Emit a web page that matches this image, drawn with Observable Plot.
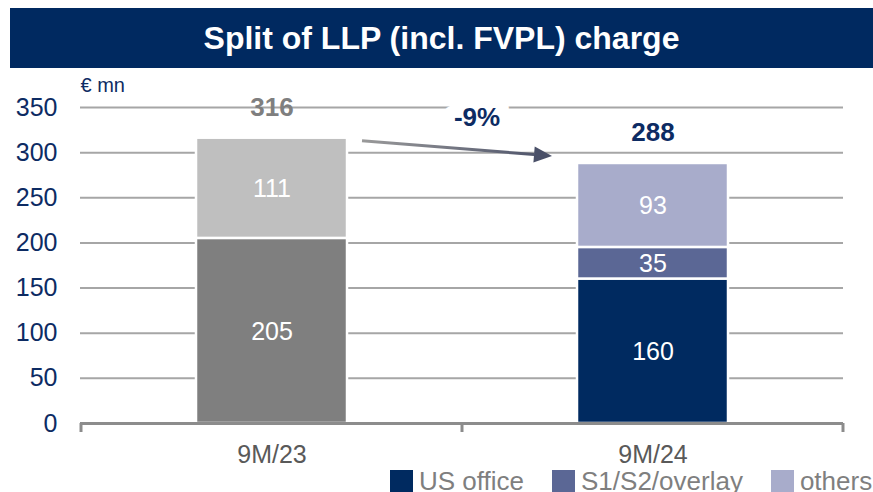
<!DOCTYPE html>
<html>
<head>
<meta charset="utf-8">
<script src="https://cdn.jsdelivr.net/npm/d3@7"></script>
<script src="https://cdn.jsdelivr.net/npm/@observablehq/plot@0.6"></script>
<style>
  html, body { margin: 0; padding: 0; background: #fff; }
  body { width: 873px; height: 492px; overflow: hidden; font-family: "Liberation Sans", Arial, sans-serif; }
  #title { margin: 8px 0 0 10px; height: 60px; background: #002960; color: #fff; font-weight: bold;
           font-size: 32px; display: flex; align-items: center; justify-content: center; }
  #chart svg { display: block; }
  #legend { display: flex; margin-left: 390px; height: 30px; align-items: flex-start; }
  .item { display: flex; align-items: flex-start; margin-right: 28px; }
  .sw { width: 23px; height: 23px; margin-right: 6px; flex: none; }
  .lab { font-size: 26px; line-height: 23px; color: #7f7f7f; white-space: nowrap; }
</style>
</head>
<body>
<div id="title"></div>
<div id="chart"></div>
<div id="legend"></div>
<script>
// ---- data ----
const title = "Split of LLP (incl. FVPL) charge";
const unit = "€ mn";
const periods = ["9M/23", "9M/24"];
const seriesNames = ["US office", "S1/S2/overlay", "others"];
const split23 = [205, 111];        // bottom → top (unnamed grey split)
const split24 = [160, 35, 93];     // US office, S1/S2/overlay, others
const totals = [316, 288];
const change = "-9%";
const yTicks = [0, 50, 100, 150, 200, 250, 300, 350];

// ---- styles ----
const NAVY = "#0d2b63";
const colors23 = ["#7f7f7f", "#bfbfbf"];
const colors24 = ["#002a60", "#5b6795", "#a8accb"];
const totalColors = ["#7f7f7f", NAVY];

const rows = [
  ...split23.map((v, i) => ({period: periods[0], key: "g" + i, value: v, color: colors23[i]})),
  ...split24.map((v, i) => ({period: periods[1], key: seriesNames[i], value: v, color: colors24[i]}))
];
const totalRows = periods.map((p, i) => ({period: p, total: totals[i], color: totalColors[i]}));

document.getElementById("title").textContent = title;

// custom decorations: group boundary ticks + change arrow, positioned through Plot's scales
function decorations(index, scales, values, dimensions) {
  const x = scales.x, y = scales.y;
  const bw = x.bandwidth();
  const inset = 115;
  const g = d3.create("svg:g");
  const y0 = y(0);
  const edges = [x(periods[0]), x(periods[1]), x(periods[1]) + bw];
  g.selectAll("line.tk").data(edges).join("line")
    .attr("x1", d => d).attr("x2", d => d)
    .attr("y1", y0).attr("y2", y0 + 9)
    .attr("stroke", "#8c8c8c").attr("stroke-width", 3);
  const x1 = x(periods[0]) + bw - inset + 15;
  const yA = y(totals[0]) + 3;
  const x2 = x(periods[1]) + inset - 25;
  const yB = y(totals[1]) - 7;
  const grad = g.append("defs").append("linearGradient")
    .attr("id", "arrowGrad").attr("gradientUnits", "userSpaceOnUse")
    .attr("x1", x1).attr("y1", yA).attr("x2", x2).attr("y2", yB);
  grad.append("stop").attr("offset", "0%").attr("stop-color", "#9a9a9a");
  grad.append("stop").attr("offset", "100%").attr("stop-color", "#4a5068");
  const ang = Math.atan2(yB - yA, x2 - x1);
  const L = 18, W = 8;
  const bx = x2 - L * Math.cos(ang), by = yB - L * Math.sin(ang);
  g.append("line").attr("x1", x1).attr("y1", yA).attr("x2", bx).attr("y2", by)
    .attr("stroke", "url(#arrowGrad)").attr("stroke-width", 3);
  const px = -Math.sin(ang), py = Math.cos(ang);
  g.append("path")
    .attr("d", `M${x2},${yB}L${bx + W * px},${by + W * py}L${bx - W * px},${by - W * py}Z`)
    .attr("fill", "#4a5068");
  return g.node();
}

const chart = Plot.plot({
  width: 873,
  height: 402,
  marginLeft: 80,
  marginRight: 30,
  marginTop: 39,
  marginBottom: 47,
  style: {fontFamily: '"Liberation Sans", Arial, sans-serif', background: "white", overflow: "visible"},
  x: {domain: periods, padding: 0, label: null},
  y: {domain: [0, 350], label: null},
  marks: [
    Plot.ruleY(yTicks.filter(t => t > 0), {stroke: "#a6a6a6", strokeWidth: 2}),
    Plot.axisY(yTicks, {tickSize: 0, tickPadding: 23, fontSize: 25, fill: NAVY, label: null}),
    Plot.axisX({tickSize: 0, tickPadding: 22, fontSize: 25, fill: "#595959", label: null}),
    Plot.text([unit], {frameAnchor: "top-left", lineAnchor: "middle", text: d => d, textAnchor: "start", dy: -22, fontSize: 20, fill: NAVY}),
    Plot.barY(rows, {x: "period", y: "value", z: "key", fill: "color", stroke: "white", strokeWidth: 2.5, insetLeft: 115, insetRight: 115}),
    Plot.text(rows, Plot.stackY({x: "period", y: "value", z: "key", text: d => String(d.value), fill: "white", fontSize: 25, dy: 1})),
    Plot.ruleY([0], {stroke: "#8c8c8c", strokeWidth: 3}),
    Plot.text(totalRows, {x: "period", y: "total", text: d => String(d.total), fill: "color", fontWeight: "bold", fontSize: 26, dy: -31}),
    Plot.text([change], {frameAnchor: "top", lineAnchor: "middle", text: d => d, dx: 15, dy: 10, fontSize: 26, fontWeight: "bold", fill: NAVY, stroke: "white", strokeWidth: 26, strokeLinejoin: "round", paintOrder: "stroke"}),
    decorations
  ]
});
document.getElementById("chart").appendChild(chart);

// legend
const legend = d3.select("#legend");
seriesNames.forEach((name, i) => {
  const it = legend.append("div").attr("class", "item");
  it.append("div").attr("class", "sw").style("background", colors24[i]);
  it.append("div").attr("class", "lab").text(name);
});
</script>
</body>
</html>
